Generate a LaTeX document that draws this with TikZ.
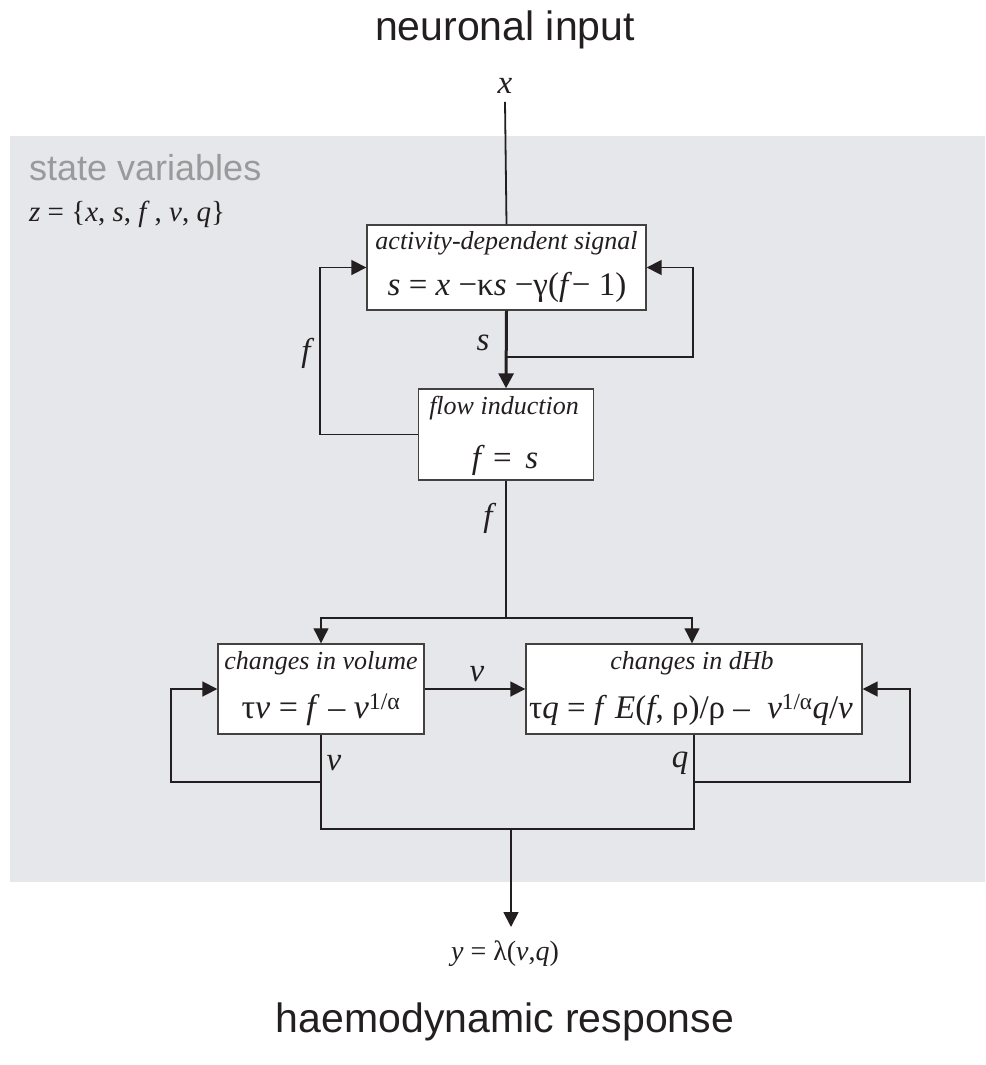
\documentclass[tikz,border=0pt]{standalone}
\usepackage{fontspec}
\setmainfont{Liberation Serif}
\newfontfamily\arial{Liberation Sans}
\usetikzlibrary{arrows.meta}
\definecolor{bggray}{HTML}{E6E7EB}
\definecolor{ink}{HTML}{231F20}
\definecolor{lblgray}{HTML}{9A9A9C}
\newcommand\iv[1]{\textit{#1}}
\begin{document}
\begin{tikzpicture}[x=1pt,y=-1pt,
  conn/.style={draw=ink,line width=1.8pt},
  thinconn/.style={draw=ink,line width=1.1pt},
  thickconn/.style={draw=ink,line width=3pt},
  tip/.style={-{Triangle[length=15pt,width=15pt]}},
  blockbox/.style={draw=ink!85,line width=1.4pt,fill=white,inner sep=0pt},
  boxtitle/.style={font=\fontsize{26}{30}\selectfont\itshape,text=ink,inner sep=0pt},
  boxeq/.style={font=\fontsize{33}{37}\selectfont,text=ink,inner sep=0pt},
  varlbl/.style={font=\fontsize{33}{37}\selectfont\itshape,text=ink,inner sep=0pt},
  bigtitle/.style={font=\arial\fontsize{41}{46}\selectfont,text=ink,inner sep=0pt}]
\useasboundingbox (0,0) rectangle (985,1065);
\fill[bggray] (10,136) rectangle (985,882);
% titles
\node[bigtitle] (tin) at (505,30) {neuronal input};
\node[bigtitle] (tout) at (505,1022) {haemodynamic response};
\node[font=\arial\fontsize{36}{40}\selectfont,text=lblgray,anchor=west,inner sep=0pt] (sv) at (29,168) {state variables};
\node[boxeq,anchor=west,font=\fontsize{29}{33}\selectfont] (zset) at (29,214) {\iv{z} = \{\iv{x}, \iv{s}, \iv{f}\,, \iv{v}, \iv{q}\}};
% input x
\node[varlbl] (xin) at (505,86) {x};
% boxes
\node[blockbox,minimum width=279pt,minimum height=85pt] (b1) at (506.5,267.5) {};
\node[boxtitle] (b1t) at (506.5,243) {activity-dependent signal};
\node[boxeq] (b1e) at (507,287) {\iv{s} = \iv{x} −κ\iv{s} −γ(\iv{f}− 1)};
\node[blockbox,minimum width=175pt,minimum height=91pt] (b2) at (506,434.5) {};
\node[boxtitle] (b2t) at (504,408) {flow induction};
\node[boxeq] (b2e) at (505,460) {\iv{f} = \,\iv{s}};
\node[blockbox,minimum width=206pt,minimum height=90pt] (b3) at (321,689) {};
\node[boxtitle] (b3t) at (321,663) {changes in volume};
\node[boxeq,font=\fontsize{34}{38}\selectfont] (b3e) at (321,710) {τ\iv{v} = \iv{f} – \iv{v}\textsuperscript{1/α}};
\node[blockbox,minimum width=336pt,minimum height=90pt] (b4) at (694,689) {};
\node[boxtitle] (b4t) at (692,663) {changes in dHb};
\node[boxeq] (b4e) at (691,710) {τ\iv{q} = \iv{f} \iv{E}(\iv{f}, ρ)/ρ – \;\iv{v}\textsuperscript{1/α}\iv{q}/\iv{v}};
% output
\node[boxeq,font=\fontsize{28}{32}\selectfont] (yout) at (505,954) {\iv{y} = λ(\iv{v},\iv{q})};
% labels
\node[varlbl] (ls) at (483,343) {s};
\node[varlbl] (lf1) at (306,353) {f};
\node[varlbl] (lf2) at (488,518) {f};
\node[varlbl] (lv1) at (477,674) {v};
\node[varlbl] (lv2) at (334,763) {v};
\node[varlbl] (lq) at (680,763) {q};
% coordinates
\coordinate (sj) at (506,357);
\coordinate (sr) at (693,357);
\coordinate (fl) at (320,434.5);
\coordinate (fj) at (506,618);
\coordinate (vj) at (321,782);
\coordinate (vl) at (171,782);
\coordinate (qj) at (694,782);
\coordinate (qr) at (910,782);
\coordinate (bl) at (321,829);
\coordinate (br) at (694,829);
\coordinate (bm) at (511,829);
\coordinate (yt) at (511,927);
% connectors
\draw[conn] (xin.south) ++(0,8) coordinate (xs) -- (b1.north);
\draw[thickconn,tip] (b1.south) -- (b2.north);
\draw[conn,tip] (sj) -- (sr) |- (b1.east);
\draw[conn,tip] (b2.west) -- (fl) |- (b1.west);
\draw[thinconn] (b2.south) -- (fj);
\draw[thinconn,tip] (fj) -| (b3.north);
\draw[thinconn,tip] (fj) -| ([xshift=-2pt]b4.north);
\draw[conn,tip] (b3.east) -- (b4.west);
\draw[conn,tip] (vj) -- (vl) |- (b3.west);
\draw[conn,tip] (qj) -- (qr) |- (b4.east);
\draw[conn] (b3.south) -- (bl) -- (br) -- (b4.south);
\draw[conn,tip] (bm) -- (yt);
\end{tikzpicture}
\end{document}
